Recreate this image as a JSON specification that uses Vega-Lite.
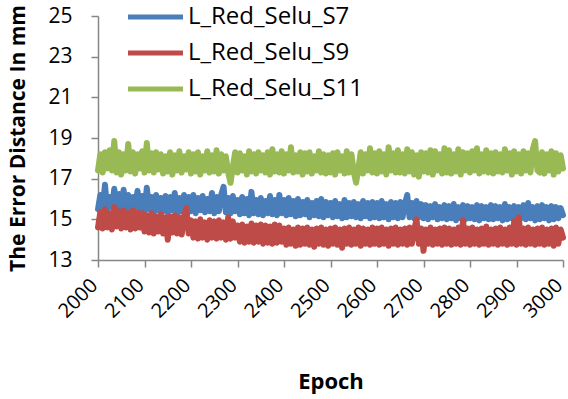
{
"$schema": "https://vega.github.io/schema/vega-lite/v6.json",
"width": 465, "height": 244,
"autosize": {"type": "none"},
"padding": {"left": 98, "top": 16, "right": 5, "bottom": 139},
"background": "white",
"config": {"view": {"stroke": null}, "font": "Open Sans", "axis": {"grid": false}},
"data": {"values": [
{"e":2000,"S7":15.5,"S9":14.6,"S11":17.4},
{"e":2005,"S7":16.2,"S9":15.35,"S11":18.2},
{"e":2010,"S7":15.55,"S9":14.55,"S11":17.3},
{"e":2015,"S7":16.7,"S9":15.5,"S11":18.3},
{"e":2020,"S7":15.45,"S9":14.6,"S11":17.5},
{"e":2025,"S7":16.1,"S9":15.3,"S11":18.4},
{"e":2030,"S7":15.6,"S9":14.5,"S11":17.4},
{"e":2035,"S7":16.5,"S9":15.6,"S11":18.85},
{"e":2040,"S7":15.5,"S9":14.65,"S11":17.3},
{"e":2045,"S7":16.25,"S9":15.4,"S11":18.3},
{"e":2050,"S7":15.55,"S9":14.55,"S11":17.2},
{"e":2055,"S7":16.45,"S9":15.45,"S11":18.2},
{"e":2060,"S7":15.5,"S9":14.6,"S11":17.4},
{"e":2065,"S7":16.2,"S9":15.3,"S11":18.7},
{"e":2070,"S7":15.45,"S9":14.5,"S11":17.35},
{"e":2075,"S7":16.1,"S9":15.45,"S11":18.3},
{"e":2080,"S7":15.6,"S9":14.55,"S11":17.25},
{"e":2085,"S7":16.4,"S9":15.35,"S11":18.2},
{"e":2090,"S7":15.5,"S9":14.6,"S11":17.5},
{"e":2095,"S7":16.15,"S9":15.3,"S11":18.35},
{"e":2100,"S7":15.4,"S9":14.4,"S11":17.3},
{"e":2105,"S7":16.55,"S9":15.2,"S11":18.75},
{"e":2110,"S7":15.5,"S9":14.35,"S11":17.4},
{"e":2115,"S7":16.1,"S9":15.3,"S11":18.25},
{"e":2120,"S7":15.35,"S9":14.3,"S11":17.3},
{"e":2125,"S7":16.2,"S9":15.15,"S11":18.3},
{"e":2130,"S7":15.45,"S9":14.4,"S11":17.45},
{"e":2135,"S7":16.05,"S9":15.25,"S11":18.2},
{"e":2140,"S7":15.4,"S9":14.3,"S11":17.25},
{"e":2145,"S7":16.15,"S9":15.1,"S11":18.1},
{"e":2150,"S7":15.35,"S9":14.0,"S11":17.35},
{"e":2155,"S7":16.1,"S9":15.15,"S11":18.3},
{"e":2160,"S7":15.45,"S9":14.35,"S11":17.2},
{"e":2165,"S7":16.3,"S9":15.2,"S11":18.15},
{"e":2170,"S7":15.3,"S9":14.3,"S11":17.4},
{"e":2175,"S7":16.05,"S9":15.1,"S11":18.35},
{"e":2180,"S7":15.4,"S9":14.25,"S11":17.3},
{"e":2185,"S7":16.2,"S9":15.15,"S11":18.1},
{"e":2190,"S7":15.35,"S9":15.55,"S11":17.45},
{"e":2195,"S7":16.1,"S9":14.3,"S11":18.3},
{"e":2200,"S7":15.4,"S9":14.95,"S11":17.25},
{"e":2205,"S7":16.2,"S9":14.1,"S11":18.2},
{"e":2210,"S7":15.3,"S9":14.9,"S11":17.35},
{"e":2215,"S7":16.05,"S9":14.05,"S11":18.3},
{"e":2220,"S7":15.45,"S9":15.0,"S11":17.2},
{"e":2225,"S7":16.15,"S9":14.1,"S11":18.1},
{"e":2230,"S7":15.35,"S9":14.85,"S11":17.4},
{"e":2235,"S7":16.0,"S9":14.0,"S11":18.35},
{"e":2240,"S7":15.4,"S9":14.95,"S11":17.3},
{"e":2245,"S7":16.3,"S9":14.1,"S11":18.15},
{"e":2250,"S7":15.3,"S9":14.9,"S11":17.35},
{"e":2255,"S7":16.1,"S9":14.05,"S11":18.4},
{"e":2260,"S7":15.4,"S9":14.95,"S11":17.25},
{"e":2265,"S7":16.2,"S9":14.1,"S11":18.2},
{"e":2270,"S7":16.6,"S9":14.85,"S11":17.4},
{"e":2275,"S7":15.35,"S9":14.0,"S11":18.1},
{"e":2280,"S7":16.05,"S9":15.1,"S11":17.3},
{"e":2285,"S7":15.3,"S9":14.05,"S11":16.8},
{"e":2290,"S7":16.15,"S9":14.9,"S11":17.6},
{"e":2295,"S7":15.4,"S9":14.1,"S11":18.3},
{"e":2300,"S7":15.95,"S9":14.7,"S11":17.3},
{"e":2305,"S7":15.25,"S9":13.9,"S11":18.25},
{"e":2310,"S7":16.1,"S9":14.75,"S11":17.4},
{"e":2315,"S7":15.3,"S9":13.85,"S11":18.1},
{"e":2320,"S7":16.0,"S9":14.65,"S11":17.2},
{"e":2325,"S7":15.2,"S9":13.9,"S11":18.35},
{"e":2330,"S7":16.35,"S9":14.8,"S11":17.35},
{"e":2335,"S7":15.3,"S9":13.85,"S11":18.2},
{"e":2340,"S7":15.95,"S9":14.7,"S11":17.25},
{"e":2345,"S7":15.25,"S9":13.9,"S11":18.3},
{"e":2350,"S7":16.05,"S9":14.75,"S11":17.4},
{"e":2355,"S7":15.2,"S9":13.8,"S11":18.15},
{"e":2360,"S7":15.9,"S9":14.7,"S11":17.3},
{"e":2365,"S7":15.3,"S9":13.85,"S11":18.3},
{"e":2370,"S7":16.15,"S9":14.65,"S11":17.2},
{"e":2375,"S7":15.25,"S9":13.8,"S11":18.45},
{"e":2380,"S7":15.95,"S9":14.75,"S11":17.35},
{"e":2385,"S7":15.2,"S9":13.85,"S11":18.2},
{"e":2390,"S7":16.2,"S9":14.7,"S11":17.3},
{"e":2395,"S7":15.3,"S9":13.9,"S11":18.35},
{"e":2400,"S7":15.95,"S9":14.55,"S11":17.25},
{"e":2405,"S7":15.2,"S9":13.75,"S11":18.2},
{"e":2410,"S7":16.05,"S9":14.6,"S11":17.4},
{"e":2415,"S7":15.25,"S9":13.8,"S11":18.55},
{"e":2420,"S7":15.9,"S9":14.5,"S11":17.3},
{"e":2425,"S7":15.15,"S9":13.7,"S11":18.15},
{"e":2430,"S7":16.0,"S9":14.6,"S11":17.35},
{"e":2435,"S7":15.2,"S9":13.75,"S11":18.3},
{"e":2440,"S7":15.85,"S9":14.55,"S11":17.2},
{"e":2445,"S7":15.25,"S9":13.8,"S11":18.25},
{"e":2450,"S7":15.95,"S9":14.6,"S11":17.35},
{"e":2455,"S7":15.1,"S9":13.75,"S11":18.3},
{"e":2460,"S7":15.8,"S9":14.5,"S11":17.25},
{"e":2465,"S7":15.2,"S9":13.65,"S11":18.1},
{"e":2470,"S7":15.9,"S9":14.55,"S11":17.4},
{"e":2475,"S7":15.15,"S9":13.8,"S11":18.35},
{"e":2480,"S7":16.0,"S9":14.6,"S11":17.3},
{"e":2485,"S7":15.1,"S9":13.75,"S11":18.2},
{"e":2490,"S7":15.85,"S9":14.5,"S11":17.25},
{"e":2495,"S7":15.2,"S9":13.7,"S11":18.15},
{"e":2500,"S7":15.8,"S9":14.55,"S11":17.3},
{"e":2505,"S7":15.1,"S9":13.8,"S11":18.25},
{"e":2510,"S7":15.9,"S9":14.6,"S11":17.2},
{"e":2515,"S7":15.15,"S9":13.75,"S11":18.3},
{"e":2520,"S7":15.75,"S9":14.5,"S11":17.4},
{"e":2525,"S7":15.05,"S9":13.6,"S11":18.1},
{"e":2530,"S7":15.95,"S9":14.55,"S11":17.25},
{"e":2535,"S7":15.1,"S9":13.8,"S11":18.35},
{"e":2540,"S7":15.8,"S9":14.6,"S11":17.3},
{"e":2545,"S7":15.15,"S9":13.75,"S11":18.2},
{"e":2550,"S7":15.85,"S9":14.5,"S11":17.35},
{"e":2555,"S7":15.1,"S9":13.8,"S11":16.8},
{"e":2560,"S7":15.75,"S9":14.6,"S11":17.5},
{"e":2565,"S7":15.05,"S9":13.7,"S11":18.3},
{"e":2570,"S7":15.9,"S9":14.55,"S11":17.25},
{"e":2575,"S7":15.15,"S9":13.8,"S11":18.2},
{"e":2580,"S7":15.8,"S9":14.5,"S11":17.4},
{"e":2585,"S7":15.05,"S9":13.75,"S11":18.5},
{"e":2590,"S7":15.85,"S9":14.6,"S11":17.3},
{"e":2595,"S7":15.1,"S9":13.8,"S11":18.25},
{"e":2600,"S7":15.8,"S9":14.55,"S11":17.25},
{"e":2605,"S7":15.05,"S9":13.75,"S11":18.35},
{"e":2610,"S7":15.9,"S9":14.6,"S11":17.35},
{"e":2615,"S7":15.1,"S9":13.8,"S11":18.2},
{"e":2620,"S7":15.75,"S9":14.5,"S11":17.2},
{"e":2625,"S7":15.0,"S9":13.7,"S11":18.55},
{"e":2630,"S7":15.85,"S9":14.55,"S11":17.4},
{"e":2635,"S7":15.1,"S9":13.8,"S11":18.25},
{"e":2640,"S7":15.8,"S9":14.6,"S11":17.3},
{"e":2645,"S7":15.05,"S9":13.75,"S11":18.4},
{"e":2650,"S7":15.85,"S9":14.5,"S11":17.3},
{"e":2655,"S7":15.1,"S9":13.8,"S11":18.2},
{"e":2660,"S7":15.75,"S9":14.55,"S11":17.25},
{"e":2665,"S7":16.2,"S9":13.75,"S11":18.45},
{"e":2670,"S7":15.1,"S9":14.6,"S11":17.35},
{"e":2675,"S7":15.8,"S9":13.8,"S11":18.3},
{"e":2680,"S7":15.05,"S9":14.5,"S11":17.2},
{"e":2685,"S7":15.9,"S9":15.0,"S11":18.15},
{"e":2690,"S7":15.1,"S9":13.8,"S11":17.1},
{"e":2695,"S7":15.75,"S9":14.55,"S11":18.3},
{"e":2700,"S7":15.05,"S9":13.45,"S11":17.35},
{"e":2705,"S7":15.7,"S9":14.5,"S11":18.25},
{"e":2710,"S7":15.0,"S9":13.8,"S11":17.3},
{"e":2715,"S7":15.65,"S9":14.6,"S11":18.4},
{"e":2720,"S7":15.1,"S9":13.75,"S11":17.2},
{"e":2725,"S7":15.75,"S9":14.5,"S11":18.35},
{"e":2730,"S7":15.0,"S9":13.8,"S11":17.4},
{"e":2735,"S7":15.6,"S9":14.55,"S11":18.2},
{"e":2740,"S7":15.05,"S9":13.75,"S11":17.25},
{"e":2745,"S7":15.7,"S9":14.6,"S11":18.5},
{"e":2750,"S7":15.0,"S9":13.8,"S11":17.3},
{"e":2755,"S7":15.65,"S9":14.55,"S11":18.4},
{"e":2760,"S7":15.05,"S9":13.75,"S11":17.25},
{"e":2765,"S7":15.75,"S9":14.5,"S11":18.2},
{"e":2770,"S7":14.95,"S9":13.8,"S11":17.35},
{"e":2775,"S7":15.6,"S9":14.6,"S11":18.45},
{"e":2780,"S7":15.05,"S9":13.75,"S11":17.2},
{"e":2785,"S7":15.7,"S9":14.95,"S11":18.3},
{"e":2790,"S7":15.0,"S9":13.8,"S11":17.4},
{"e":2795,"S7":15.65,"S9":14.55,"S11":18.25},
{"e":2800,"S7":15.05,"S9":13.75,"S11":17.3},
{"e":2805,"S7":15.6,"S9":14.6,"S11":18.35},
{"e":2810,"S7":15.0,"S9":13.8,"S11":17.4},
{"e":2815,"S7":15.7,"S9":14.5,"S11":18.5},
{"e":2820,"S7":14.95,"S9":13.75,"S11":17.25},
{"e":2825,"S7":15.65,"S9":14.55,"S11":18.2},
{"e":2830,"S7":15.05,"S9":13.8,"S11":17.35},
{"e":2835,"S7":15.6,"S9":14.65,"S11":18.4},
{"e":2840,"S7":15.0,"S9":13.75,"S11":17.3},
{"e":2845,"S7":15.7,"S9":14.5,"S11":18.25},
{"e":2850,"S7":15.0,"S9":13.8,"S11":17.25},
{"e":2855,"S7":15.65,"S9":14.55,"S11":18.3},
{"e":2860,"S7":15.05,"S9":13.75,"S11":17.35},
{"e":2865,"S7":15.6,"S9":14.6,"S11":18.2},
{"e":2870,"S7":14.95,"S9":13.8,"S11":17.3},
{"e":2875,"S7":15.75,"S9":14.5,"S11":18.45},
{"e":2880,"S7":15.0,"S9":13.75,"S11":17.4},
{"e":2885,"S7":15.6,"S9":14.6,"S11":18.25},
{"e":2890,"S7":15.05,"S9":13.8,"S11":17.2},
{"e":2895,"S7":15.65,"S9":14.9,"S11":18.35},
{"e":2900,"S7":15.0,"S9":13.75,"S11":17.35},
{"e":2905,"S7":15.6,"S9":15.1,"S11":18.2},
{"e":2910,"S7":15.05,"S9":13.8,"S11":17.25},
{"e":2915,"S7":15.7,"S9":14.55,"S11":18.35},
{"e":2920,"S7":15.0,"S9":13.75,"S11":17.4},
{"e":2925,"S7":15.8,"S9":14.6,"S11":18.25},
{"e":2930,"S7":15.05,"S9":13.8,"S11":17.3},
{"e":2935,"S7":15.6,"S9":14.5,"S11":18.45},
{"e":2940,"S7":14.95,"S9":13.75,"S11":18.85},
{"e":2945,"S7":15.65,"S9":14.55,"S11":17.4},
{"e":2950,"S7":15.0,"S9":13.8,"S11":17.3},
{"e":2955,"S7":15.7,"S9":14.6,"S11":18.3},
{"e":2960,"S7":15.05,"S9":13.75,"S11":17.25},
{"e":2965,"S7":15.6,"S9":14.5,"S11":18.2},
{"e":2970,"S7":14.95,"S9":13.8,"S11":17.4},
{"e":2975,"S7":15.65,"S9":14.55,"S11":18.35},
{"e":2980,"S7":15.0,"S9":13.7,"S11":17.2},
{"e":2985,"S7":15.6,"S9":14.6,"S11":18.25},
{"e":2990,"S7":15.05,"S9":13.8,"S11":17.35},
{"e":2995,"S7":15.55,"S9":14.5,"S11":18.15},
{"e":3000,"S7":15.2,"S9":14.1,"S11":17.5}
]},
"transform": [{"fold": ["S7", "S9", "S11"], "as": ["series", "value"]}],
"mark": {"type": "line", "strokeWidth": 6, "strokeCap": "round", "strokeJoin": "round"},
"encoding": {
  "x": {"field": "e", "type": "quantitative",
    "scale": {"domain": [2000, 3000], "nice": false, "zero": false},
    "axis": {"values": [2000,2100,2200,2300,2400,2500,2600,2700,2800,2900,3000], "format": "d",
      "title": "Epoch", "labelAngle": -45, "labelAlign": "right", "labelBaseline": "middle",
      "labelOverlap": false, "labelBound": false,
      "labelFontSize": 20, "labelPadding": 15, "labelOffset": -4, "tickSize": 7,
      "domainColor": "#868686", "tickColor": "#868686", "domainWidth": 1.5, "tickWidth": 1.5,
      "labelColor": "black", "titleColor": "black", "titleFontSize": 22, "titleFontWeight": "bold", "titlePadding": 50}},
  "y": {"field": "value", "type": "quantitative",
    "scale": {"domain": [13, 25], "nice": false, "zero": false},
    "axis": {"values": [13,15,17,19,21,23,25], "title": "The Error Distance In mm",
      "labelFontSize": 21, "labelPadding": 19, "tickSize": 7,
      "domainColor": "#868686", "tickColor": "#868686", "domainWidth": 1.5, "tickWidth": 1.5,
      "labelColor": "black", "titleColor": "black", "titleFontSize": 21, "titleFontWeight": "bold", "titlePadding": 19}},
  "color": {"field": "series", "type": "nominal",
    "scale": {"domain": ["S7", "S9", "S11"], "range": ["#4A7EBB", "#BE4B48", "#98B954"]},
    "legend": {"orient": "none", "legendX": 45.5, "legendY": -11, "title": null, "padding": 0,
      "labelExpr": "'L_Red_Selu_' + datum.label", "labelLimit": 0, "gridAlign": "all",
      "symbolType": "M-5,0H5", "symbolSize": 121, "symbolStrokeWidth": 5,
      "labelFontSize": 24, "labelOffset": 20.5, "rowPadding": 12, "labelColor": "black"}}
}
}
